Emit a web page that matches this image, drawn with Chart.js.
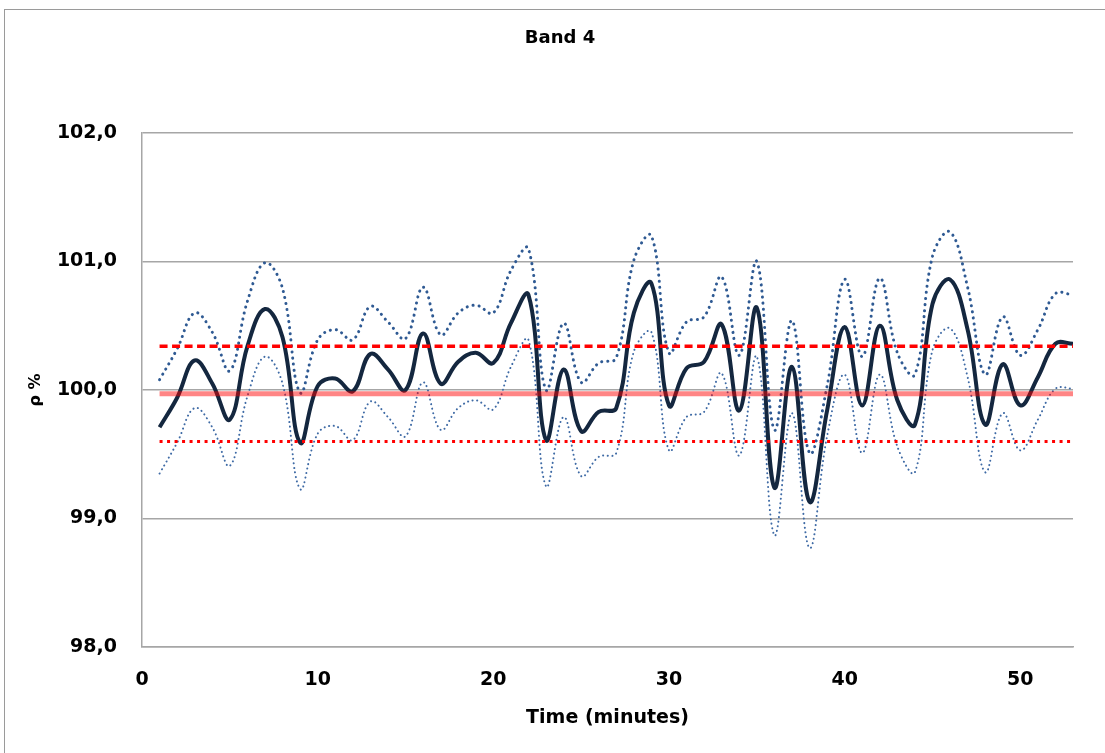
<!DOCTYPE html>
<html>
<head>
<meta charset="utf-8">
<script src="https://cdn.jsdelivr.net/npm/chart.js@4"></script>
<style>
  html, body { margin: 0; padding: 0; background: #ffffff; }
  #wrap { position: relative; width: 1105px; height: 753px; }
  canvas { display: block; }
</style>
</head>
<body>
<div id="wrap"><canvas id="c" width="1105" height="753"></canvas></div>
<script>
const chartTitle = 'Band 4';
const xTitle = 'Time (minutes)';
const yTitle = 'ρ %';

const minutes = [1,2,3,4,5,6,7,8,9,10,11,12,13,14,15,16,17,18,19,20,21,22,23,24,25,26,27,28,29,30,31,32,33,34,35,36,37,38,39,40,41,42,43,44,45,46,47,48,49,50,51,52,53];

const rhoMean = [99.71,99.94,100.23,100.05,99.77,100.34,100.63,100.41,99.59,100.03,100.09,99.99,100.28,100.16,100.00,100.44,100.05,100.22,100.29,100.21,100.52,100.74,99.61,100.16,99.68,99.83,99.86,100.60,100.83,99.88,100.17,100.22,100.51,99.84,100.64,99.24,100.18,99.13,99.84,100.49,99.88,100.50,99.92,99.73,100.67,100.86,100.47,99.73,100.20,99.88,100.10,100.36,100.36];

const rhoUpper = [100.08,100.32,100.60,100.45,100.15,100.69,100.99,100.79,99.98,100.39,100.47,100.39,100.65,100.53,100.40,100.80,100.43,100.60,100.66,100.60,100.93,101.10,100.00,100.52,100.06,100.21,100.25,101.01,101.20,100.29,100.53,100.57,100.88,100.27,101.00,99.69,100.54,99.51,100.03,100.86,100.26,100.87,100.29,100.12,101.04,101.23,100.80,100.12,100.57,100.27,100.47,100.75,100.74];

const rhoLower = [99.35,99.59,99.86,99.71,99.41,99.95,100.26,100.05,99.23,99.66,99.72,99.61,99.91,99.79,99.64,100.06,99.69,99.86,99.92,99.85,100.18,100.39,99.25,99.79,99.33,99.48,99.51,100.30,100.45,99.53,99.79,99.83,100.13,99.49,100.26,98.87,99.82,98.77,99.64,100.12,99.51,100.12,99.56,99.36,100.31,100.48,100.10,99.36,99.82,99.53,99.77,100.01,100.01];

const upperLimit = 100.34;
const centerLine = 99.97;
const lowerLimit = 99.60;

const yTicks = [98, 99, 100, 101, 102];
const xTicks = [0, 10, 20, 30, 40, 50];

const FONT = "'DejaVu Sans', 'Liberation Sans', sans-serif";
const GRID = '#a6a6a6';

const pts = (vals) => minutes.map((m, i) => ({ x: m, y: vals[i] }));
const flat = (v) => [{ x: minutes[0], y: v }, { x: minutes[minutes.length - 1], y: v }];

const framePlugin = {
  id: 'frame',
  beforeDraw(chart) {
    const ctx = chart.ctx;
    ctx.save();
    ctx.fillStyle = '#ffffff';
    ctx.fillRect(0, 0, chart.width, chart.height);
    ctx.strokeStyle = '#9a9a9a';
    ctx.lineWidth = 1;
    ctx.strokeRect(4.5, 9.5, 3000, 3000);
    ctx.restore();
  },
  afterDraw(chart) {
    const ctx = chart.ctx;
    ctx.save();
    ctx.fillStyle = '#000000';
    ctx.font = 'bold 18px ' + FONT;
    ctx.textAlign = 'center';
    ctx.textBaseline = 'middle';
    ctx.fillText(chartTitle, 560, 38.5);
    ctx.restore();
  }
};

new Chart(document.getElementById('c'), {
  type: 'line',
  data: {
    datasets: [
      { label: 'ρ', data: pts(rhoMean), borderColor: '#14273f', borderWidth: 4, tension: 0.4, pointRadius: 0, order: 3 },
      { label: 'upper', data: pts(rhoUpper), borderColor: '#2f5a93', borderWidth: 3, borderDash: [0.1, 6], borderCapStyle: 'round', tension: 0.4, pointRadius: 0, order: 5 },
      { label: 'lower', data: pts(rhoLower), borderColor: '#3e6aa5', borderWidth: 2, borderDash: [0.1, 4.5], borderCapStyle: 'round', tension: 0.4, pointRadius: 0, order: 4 },
      { label: 'UCL', data: flat(upperLimit), borderColor: '#ff0000', borderWidth: 3.5, borderDash: [8, 4.5], pointRadius: 0, order: 2 },
      { label: 'CL', data: flat(centerLine), borderColor: 'rgba(255,0,0,0.48)', borderWidth: 5, pointRadius: 0, order: 1 },
      { label: 'LCL', data: flat(lowerLimit), borderColor: '#ff0000', borderWidth: 3, borderDash: [3, 4.5], pointRadius: 0, order: 0 }
    ]
  },
  options: {
    responsive: false,
    animation: false,
    devicePixelRatio: 1,
    layout: { padding: { left: 0, right: 32, top: 133, bottom: 0 } },
    plugins: {
      legend: { display: false },
      title: { display: false },
      tooltip: { enabled: false }
    },
    scales: {
      x: {
        type: 'linear',
        min: 0,
        max: 53,
        afterFit(scale) { scale.height = 106; },
        afterBuildTicks(scale) { scale.ticks = xTicks.map(v => ({ value: v })); },
        ticks: { padding: 22, color: '#000', font: { family: FONT, size: 19, weight: 'bold' } },
        grid: { display: false, drawTicks: false },
        border: { display: true, color: GRID, width: 1.5 },
        title: { display: true, text: xTitle, color: '#000', font: { family: FONT, size: 19, weight: 'bold' }, padding: { top: 0, bottom: 24 } }
      },
      y: {
        type: 'linear',
        min: 98,
        max: 102,
        afterFit(scale) { scale.width = 142; },
        afterBuildTicks(scale) { scale.ticks = yTicks.map(v => ({ value: v })); },
        ticks: {
          padding: 25,
          color: '#000',
          font: { family: FONT, size: 19, weight: 'bold' },
          callback: (v) => Number(v).toFixed(1).replace('.', ',')
        },
        grid: { color: GRID, lineWidth: 1.5, drawTicks: false },
        border: { display: true, color: GRID, width: 1.5 },
        title: { display: true, text: yTitle, color: '#000', font: { family: FONT, size: 16, weight: 'bold' }, padding: { top: 26, bottom: 0 } }
      }
    }
  },
  plugins: [framePlugin]
});
</script>
</body>
</html>
